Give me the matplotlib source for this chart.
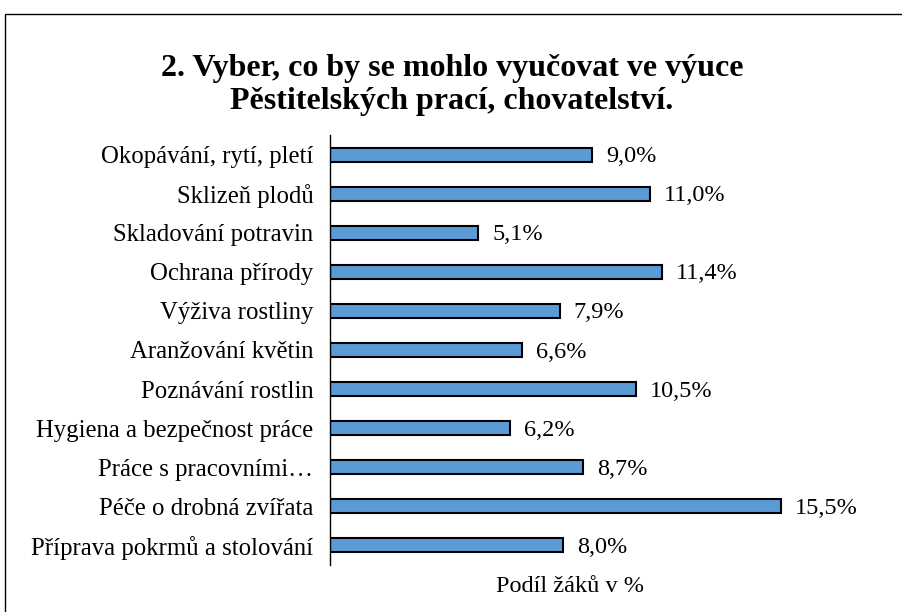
import matplotlib
matplotlib.use('Agg')
import matplotlib.pyplot as plt
from matplotlib.patches import Rectangle

categories = ['Okopávání, rytí, pletí', 'Sklizeň plodů', 'Skladování potravin',
              'Ochrana přírody', 'Výživa rostliny', 'Aranžování květin',
              'Poznávání rostlin', 'Hygiena a bezpečnost práce',
              'Práce s pracovními…', 'Péče o drobná zvířata',
              'Příprava pokrmů a stolování']
values = [9.0, 11.0, 5.1, 11.4, 7.9, 6.6, 10.5, 6.2, 8.7, 15.5, 8.0]
value_labels = ['9,0%', '11,0%', '5,1%', '11,4%', '7,9%', '6,6%', '10,5%',
                '6,2%', '8,7%', '15,5%', '8,0%']

plt.rcParams['font.family'] = ['Liberation Serif', 'DejaVu Serif']

fig = plt.figure(figsize=(9.02, 6.12), dpi=100)
ax = fig.add_axes([330 / 902, 1 - 565 / 612, 530 / 902, 430 / 612])

y = list(range(len(categories)))[::-1]
ax.barh(y, values, height=0.36, color='#5B9BD5', edgecolor='black', linewidth=1.5)
for yi, v, lab in zip(y, values, value_labels):
    ax.annotate(lab, (v, yi), xytext=(10, -1.5), textcoords='offset points',
                ha='left', va='center', fontsize=17.5)

ax.set_yticks(y)
ax.set_yticklabels(categories, fontsize=17.8)
ax.tick_params(axis='y', length=0, pad=12)
ax.set_xticks([])
ax.set_xlim(0, 15.5 * 530 / 451)
ax.set_ylim(-0.5, len(categories) - 0.5)
for s in ['top', 'right', 'bottom']:
    ax.spines[s].set_visible(False)
ax.spines['left'].set_linewidth(1.0)

fig.text(570 / 902, 1 - 587 / 612, 'Podíl žáků v %', ha='center', va='center', fontsize=17.5)
fig.text(452 / 902, 1 - 85 / 612, '2. Vyber, co by se mohlo vyučovat ve výuce\nPěstitelských prací, chovatelství.',
         ha='center', va='center', fontsize=23, fontweight='bold', linespacing=1.2)

fig.patches.append(Rectangle((5 / 902, -0.1), 1.0, 1 - 14 / 612 + 0.1, transform=fig.transFigure,
                             fill=False, edgecolor='black', linewidth=1.0))

fig.savefig('out.png', dpi=100)
